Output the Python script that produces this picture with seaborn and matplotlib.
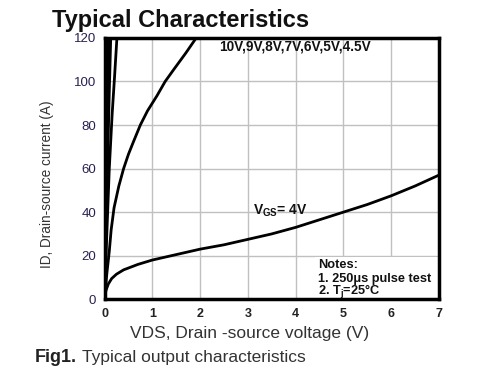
import matplotlib
matplotlib.use("Agg")
import matplotlib.pyplot as plt
from matplotlib.patches import Rectangle
import seaborn as sns
import pandas as pd

# ---- data ----
vds_4v = [0, 0.03, 0.08, 0.15, 0.25, 0.4, 0.7, 1.0, 1.5, 2.0, 2.5, 3.0, 3.5, 4.0, 4.5, 5.0, 5.5, 6.0, 6.5, 7.0]
id_4v = [0, 4, 7, 9.5, 11.5, 13.5, 16, 18, 20.5, 23, 25, 27.5, 30, 33, 36.5, 40, 43.5, 47.5, 52, 57]

vds_45v = [0, 0.02, 0.05, 0.1, 0.14, 0.2, 0.3, 0.4, 0.5, 0.6, 0.75, 0.9, 1.1, 1.27, 1.45, 1.7, 1.92, 2.0]
id_45v = [0, 5, 12, 22, 32, 42, 52, 60, 66.5, 72, 80, 86.5, 93.5, 100, 105.5, 113, 120, 123]

vds_5v = [0, 0.04, 0.1, 0.16, 0.21, 0.26, 0.27]
id_5v = [0, 25, 60, 85, 102, 120, 124]

vds_6v = [0, 0.05, 0.1, 0.13, 0.14]
id_6v = [0, 50, 95, 120, 126]

vds_7v = [0, 0.05, 0.1, 0.11]
id_7v = [0, 60, 120, 128]

vds_8v = [0, 0.04, 0.08, 0.09]
id_8v = [0, 60, 120, 130]

vds_9v = [0, 0.035, 0.07, 0.08]
id_9v = [0, 60, 120, 135]

vds_10v = [0, 0.03, 0.06, 0.07]
id_10v = [0, 60, 120, 140]

x_ticks = [0, 1, 2, 3, 4, 5, 6, 7]
y_ticks = [0, 20, 40, 60, 80, 100, 120]

series = {
    "4V": (vds_4v, id_4v), "4.5V": (vds_45v, id_45v), "5V": (vds_5v, id_5v),
    "6V": (vds_6v, id_6v), "7V": (vds_7v, id_7v), "8V": (vds_8v, id_8v),
    "9V": (vds_9v, id_9v), "10V": (vds_10v, id_10v),
}
rows = []
for name, (xs, ys) in series.items():
    for i, (xv, yv) in enumerate(zip(xs, ys)):
        rows.append({"VGS": name, "VDS": xv, "ID": yv, "order": i})
df = pd.DataFrame(rows)

sns.set_style("white")
plt.rcParams["font.family"] = ["Liberation Sans", "DejaVu Sans"]
plt.rcParams["mathtext.fontset"] = "custom"
plt.rcParams["mathtext.rm"] = "Liberation Sans:bold"
plt.rcParams["mathtext.it"] = "Liberation Sans:bold"
plt.rcParams["mathtext.bf"] = "Liberation Sans:bold"

fig = plt.figure(figsize=(5, 3.75), dpi=100)
ax = fig.add_axes([0.209, 0.202, 0.669, 0.697])

for name in series:
    sub = df[df["VGS"] == name]
    sns.lineplot(data=sub, x="VDS", y="ID", sort=False, color="black",
                 linewidth=2.0, ax=ax, legend=False)

ax.set_xlim(0, 7)
ax.set_ylim(0, 120)
ax.set_xticks(x_ticks)
ax.set_yticks(y_ticks)
ax.grid(True, color="#c0c0c0", linewidth=1.0)
ax.set_axisbelow(True)
for s in ax.spines.values():
    s.set_color("black")
    s.set_linewidth(2.5)
    s.set_zorder(10)
ax.tick_params(length=0, pad=6)
for lab in ax.get_xticklabels():
    lab.set_fontweight("bold")
    lab.set_fontsize(9)
    lab.set_color("#222222")
for lab in ax.get_yticklabels():
    lab.set_fontsize(9.5)
    lab.set_color("#2a2050")

ax.set_xlabel("VDS, Drain -source voltage (V)", fontsize=12.5, color="#333333")
ax.xaxis.label.set_va("center")
ax.xaxis.set_label_coords(0.435, -0.13)
ax.set_ylabel("ID, Drain-source current (A)", fontsize=9.8, color="#333333")
ax.yaxis.set_label_coords(-0.151, 0.44)

ax.text(2.4, 116, "10V,9V,8V,7V,6V,5V,4.5V", fontsize=9.8, fontweight="bold",
        va="center", ha="left", color="#111111")
ax.text(3.1, 40.8, r"V$_{\mathregular{GS}}$= 4V", fontsize=10, fontweight="bold",
        va="center", ha="left", color="#111111")

ax.add_patch(Rectangle((4.4, 0.6), 2.58, 19.0, facecolor="white", edgecolor="none", zorder=4))
for yy, txt in [(15.6, "Notes:"), (9.4, "1. 250\u03bcs pulse test"),
                (3.2, "2. T$_{\\mathregular{j}}$=25\u00b0C")]:
    ax.text(4.47, yy, txt, fontsize=9.2, fontweight="bold", va="center", ha="left",
            color="#111111", zorder=5)

fig.text(0.104, 0.944, "Typical Characteristics", fontsize=17, fontweight="bold",
         ha="left", va="center", color="#111111")
fig.text(0.07, 0.046, "Fig1.", fontsize=13, fontweight="bold", ha="left", va="center",
         color="#222222")
fig.text(0.163, 0.046, "Typical output characteristics", fontsize=12.5, ha="left",
         va="center", color="#333333")

fig.savefig("out.png", dpi=100)
